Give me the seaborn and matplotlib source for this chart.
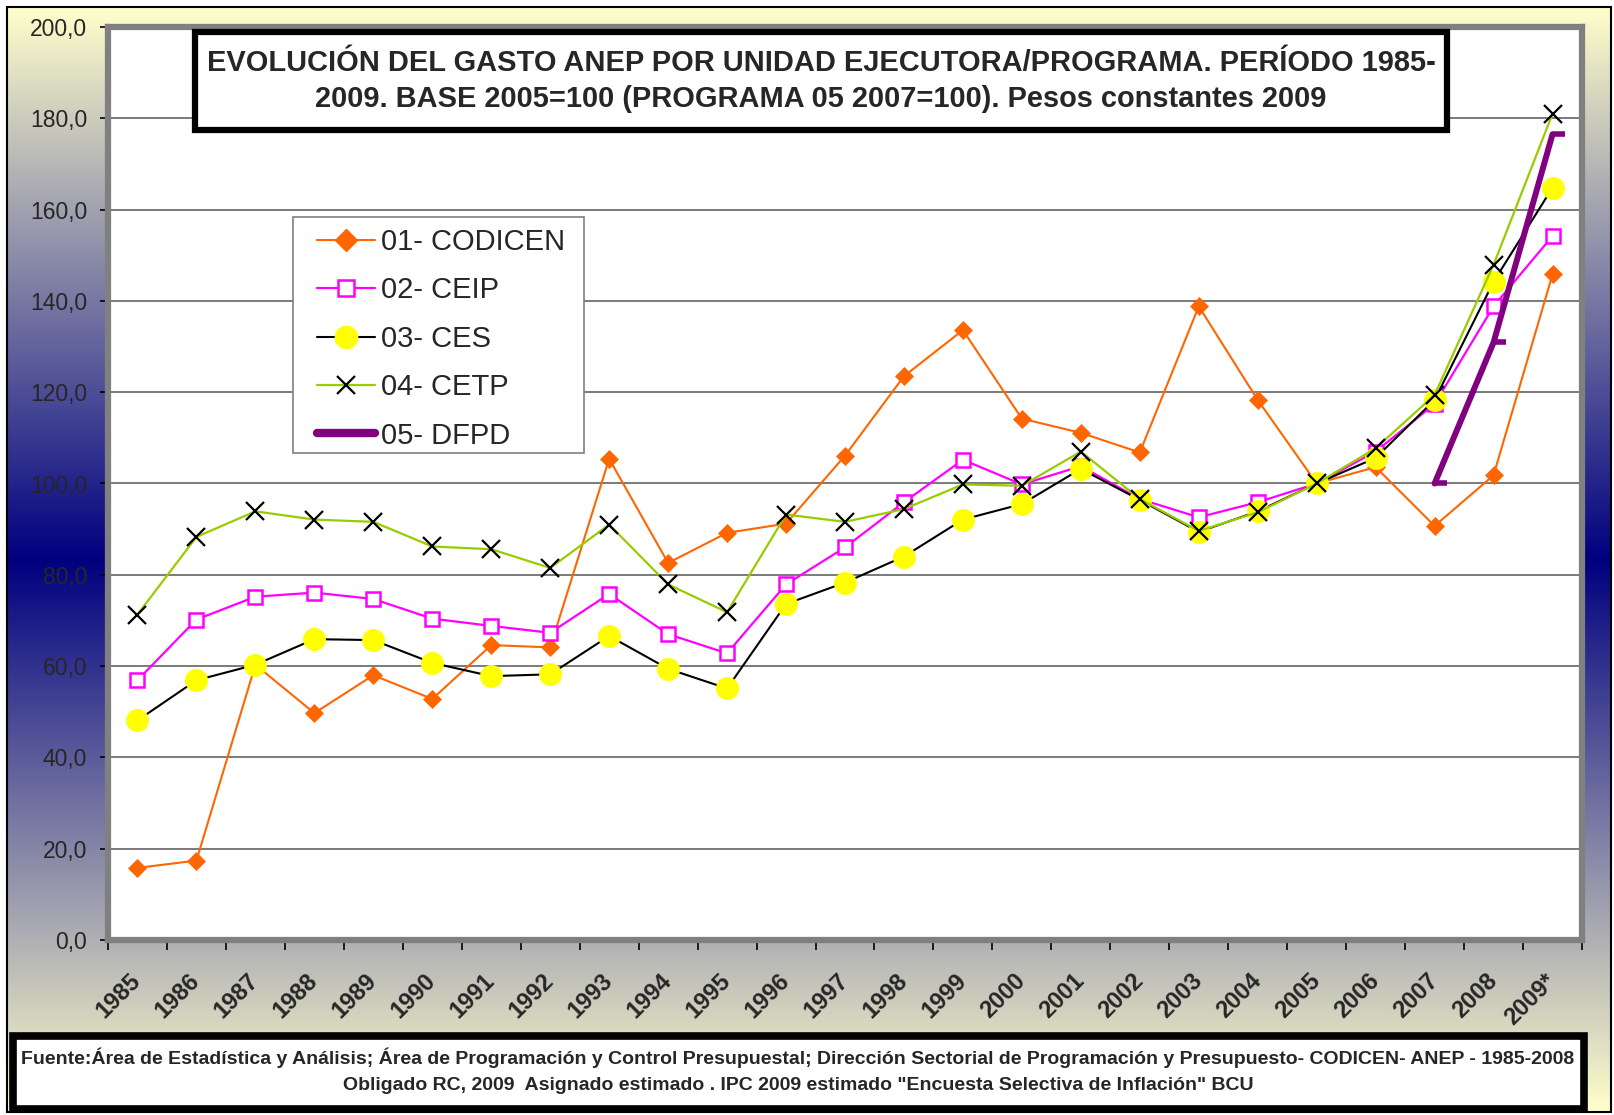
import numpy as np
import matplotlib
matplotlib.use("Agg")
import matplotlib.pyplot as plt
import seaborn as sns
from matplotlib.path import Path
from matplotlib.patches import Rectangle
from matplotlib.lines import Line2D
from matplotlib.ticker import FixedLocator, MultipleLocator, FuncFormatter, NullFormatter

# ---------------- data ----------------
years = ["1985", "1986", "1987", "1988", "1989", "1990", "1991", "1992", "1993",
         "1994", "1995", "1996", "1997", "1998", "1999", "2000", "2001", "2002",
         "2003", "2004", "2005", "2006", "2007", "2008", "2009*"]

codicen = [15.8, 17.4, 60.3, 49.7, 58.0, 52.8, 64.6, 64.1, 105.4, 82.6, 89.2, 91.2,
           106.1, 123.5, 133.6, 114.2, 111.1, 106.8, 138.8, 118.3, 100.0, 103.6,
           90.7, 101.8, 145.8]
ceip = [56.9, 70.2, 75.2, 76.1, 74.7, 70.4, 68.8, 67.3, 75.8, 67.0, 62.8, 77.9,
        86.0, 95.9, 105.2, 99.8, 103.8, 96.6, 92.6, 95.9, 100.0, 107.0, 117.4,
        138.8, 154.2]
ces = [48.1, 56.9, 60.3, 65.9, 65.7, 60.7, 57.8, 58.2, 66.6, 59.4, 55.1, 73.6,
       78.3, 84.0, 92.1, 95.5, 103.2, 96.4, 89.4, 93.9, 100.0, 105.6, 118.3,
       144.2, 164.8]
cetp = [71.3, 88.3, 93.9, 92.1, 91.6, 86.2, 85.6, 81.5, 91.0, 77.9, 71.8, 93.2,
        91.6, 94.4, 99.8, 99.5, 107.0, 96.6, 89.6, 93.7, 100.0, 107.7, 119.4,
        147.9, 181.0]
dfpd_years = ["2007", "2008", "2009*"]
dfpd = [100.0, 130.9, 176.5]

series_names = ["01- CODICEN", "02- CEIP", "03- CES", "04- CETP", "05- DFPD"]

title_lines = ["EVOLUCIÓN DEL GASTO ANEP POR UNIDAD EJECUTORA/PROGRAMA. PERÍODO 1985-",
               "2009. BASE 2005=100 (PROGRAMA 05 2007=100). Pesos constantes 2009"]
footer_lines = ["Fuente:Área de Estadística y Análisis; Área de Programación y Control Presupuestal; "
                "Dirección Sectorial de Programación y Presupuesto- CODICEN- ANEP - 1985-2008",
                "Obligado RC, 2009  Asignado estimado . IPC 2009 estimado \"Encuesta Selectiva de Inflación\" BCU"]

# ---------------- styling ----------------
W, H, DPI = 1614, 1115, 100
sns.set_theme(style="white")
plt.rcParams["font.family"] = ["Liberation Sans", "DejaVu Sans"]

fig = plt.figure(figsize=(W / DPI, H / DPI), dpi=DPI)
fig.patch.set_facecolor("white")


def rect(x0, y0, x1, y1):
    return [x0 / W, 1 - y1 / H, (x1 - x0) / W, (y1 - y0) / H]


# background gradient (yellow at edges, navy at centre)
bg = fig.add_axes(rect(7, 7, 1611, 1112), zorder=0)
t = np.linspace(0, 1, 600)
d = np.abs(t - 0.5) * 2
c_edge = np.array([1.0, 1.0, 0.8])
c_mid = np.array([0.0, 0.0, 0.5])
img = c_mid[None, :] * (1 - d[:, None]) + c_edge[None, :] * d[:, None]
bg.imshow(img[:, None, :], aspect="auto", extent=[0, 1, 0, 1])
bg.set_xlim(0, 1)
bg.set_ylim(0, 1)
bg.set_axis_off()
bg.add_patch(Rectangle((0, 0), 1, 1, transform=bg.transAxes, fill=False,
                       ec="black", lw=1.5, clip_on=False))

# main axes
ax = fig.add_axes(rect(108, 27, 1582, 940), zorder=1)
ax.set_facecolor("white")

common = dict(ax=ax, sort=False, errorbar=None)
sns.lineplot(x=years, y=codicen, color="#FF6600", linewidth=1.5, marker="D",
             markersize=9, markerfacecolor="#FF6600", markeredgecolor="#FF6600",
             markeredgewidth=0.5, label=series_names[0], zorder=3, **common)
sns.lineplot(x=years, y=ceip, color="#FF00FF", linewidth=1.6, marker="s",
             markersize=10.5, markerfacecolor="white", markeredgecolor="#FF00FF",
             markeredgewidth=1.8, label=series_names[1], zorder=4, **common)
sns.lineplot(x=years, y=ces, color="black", linewidth=1.5, marker="o",
             markersize=16, markerfacecolor="#FFFF00", markeredgecolor="#FFFF00",
             markeredgewidth=0.5, label=series_names[2], zorder=5, **common)
sns.lineplot(x=years, y=cetp, color="#99CC00", linewidth=1.6, marker="x",
             markersize=13, markerfacecolor="black", markeredgecolor="black",
             markeredgewidth=1.6, label=series_names[3], zorder=6, **common)
dash = Path([(0, 0), (1, 0)], [Path.MOVETO, Path.LINETO])
sns.lineplot(x=dfpd_years, y=dfpd, color="#800080", linewidth=4.3, marker=dash,
             markersize=17, markerfacecolor="#800080", markeredgecolor="#800080",
             markeredgewidth=4, label=series_names[4], zorder=7, **common)

# axes limits / ticks
ax.set_xlim(-0.5, len(years) - 0.5)
ax.set_ylim(0, 200)
ax.yaxis.set_major_locator(MultipleLocator(20))
ax.yaxis.set_major_formatter(FuncFormatter(lambda v, p: f"{v:.1f}".replace(".", ",")))
ax.xaxis.set_minor_locator(FixedLocator(np.arange(-0.5, len(years), 1.0)))
ax.xaxis.set_minor_formatter(NullFormatter())
ax.tick_params(axis="x", which="major", length=0, pad=27, labelsize=17)
ax.tick_params(axis="x", which="minor", length=7, width=1.2, color="black", direction="out", bottom=True)
ax.tick_params(axis="y", which="major", length=6, width=1.2, color="black", direction="out",
               left=True, pad=9, labelsize=16.5)
for lab in ax.get_xticklabels():
    lab.set_rotation(45)
    lab.set_ha("right")
    lab.set_va("center")
    lab.set_rotation_mode("anchor")
    lab.set_fontweight("bold")
ax.set_xlabel("")
ax.set_ylabel("")
ax.yaxis.grid(True, color="#7a7a7a", linewidth=1.4)
ax.xaxis.grid(False)
ax.set_axisbelow(True)
for s in ax.spines.values():
    s.set_visible(True)
    s.set_color("#808080")
    s.set_linewidth(4.5)

# legend (frame drawn separately to match box geometry)
ax.add_patch(Rectangle((293 / W, 1 - 453 / H), (584 - 293) / W, (453 - 217) / H,
                       transform=fig.transFigure, fc="white", ec="#808080", lw=1.2,
                       clip_on=False, zorder=9))
proxies = [
    Line2D([], [], color="#FF6600", lw=1.5, marker="D", ms=11, mfc="#FF6600", mec="#FF6600"),
    Line2D([], [], color="#FF00FF", lw=1.6, marker="s", ms=12, mfc="white", mec="#FF00FF", mew=1.8),
    Line2D([], [], color="black", lw=1.5, marker="o", ms=16, mfc="#FFFF00", mec="#FFFF00"),
    Line2D([], [], color="#99CC00", lw=1.6, marker="x", ms=13, mec="black", mew=1.6),
    Line2D([], [], color="#800080", lw=6, solid_capstyle="round"),
]
leg = ax.legend(proxies, series_names, loc="upper left",
                bbox_to_anchor=(317 / W, 1 - 228 / H), bbox_transform=fig.transFigure,
                borderaxespad=0, borderpad=0, fontsize=21, frameon=False,
                handlelength=2.0, handletextpad=0.2, labelspacing=0.70)
leg.set_zorder(10)

# title box
cx = 0.5 * (195 + 1447) / W
fig.add_artist(Rectangle((195 / W, 1 - 130 / H), (1447 - 195) / W, (130 - 32) / H,
                         transform=fig.transFigure, fc="white", ec="black", lw=4.5, zorder=20))
fig.text(cx, 1 - 63 / H, title_lines[0], ha="center", va="center",
         fontsize=20.9, fontweight="bold", zorder=21)
fig.text(cx, 1 - 99 / H, title_lines[1], ha="center", va="center",
         fontsize=20.9, fontweight="bold", zorder=21)

# footer box
fig.add_artist(Rectangle((13 / W, 1 - 1109 / H), (1584 - 13) / W, (1109 - 1036) / H,
                         transform=fig.transFigure, fc="white", ec="black", lw=5.5, zorder=20))
fig.text(798 / W, 1 - 1058 / H, footer_lines[0], ha="center", va="center",
         fontsize=14, fontweight="bold", zorder=21)
fig.text(798 / W, 1 - 1085 / H, footer_lines[1], ha="center", va="center",
         fontsize=14, fontweight="bold", zorder=21)

fig.savefig("out.png", dpi=DPI)
